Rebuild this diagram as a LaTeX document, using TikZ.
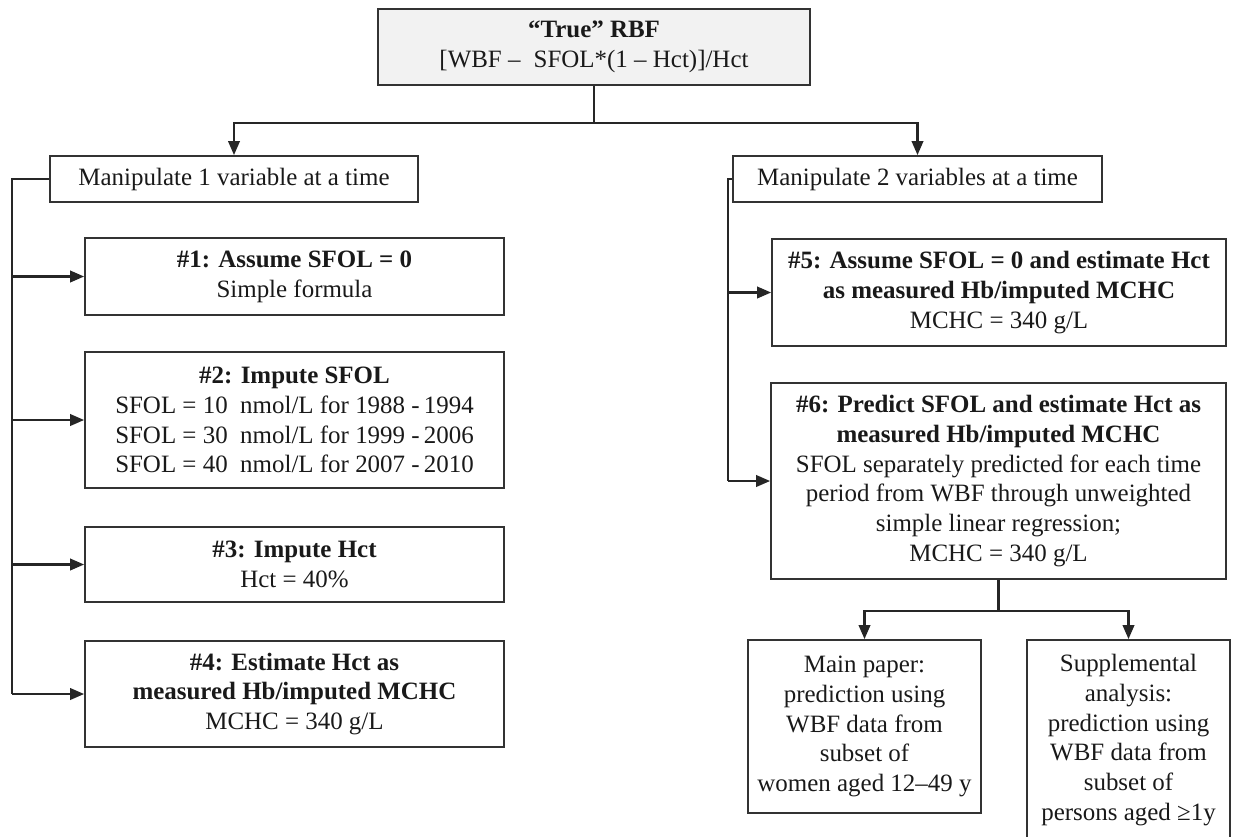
\documentclass[tikz,border=0pt]{standalone}
\usepackage{fontspec}
\setmainfont{Liberation Serif}
\usetikzlibrary{arrows.meta}
\begin{document}
\begin{tikzpicture}[x=0.02cm,y=-0.02cm,
  box/.style={draw=black!80, line width=1pt, align=center, inner sep=1pt, text=black!90,
    font=\fontsize{14.2}{17}\selectfont},
  wire/.style={draw=black!85, line width=1.4pt},
  arr/.style={wire, -{Triangle[length=8pt,width=6.5pt]}}]
\useasboundingbox (0,0) rectangle (1233,836);
% root
\node[box, fill=gray!10, minimum width=8.64cm, minimum height=1.52cm] (root) at (594,47)
  {\textbf{“True” RBF}\\ {[}WBF –\; SFOL*(1 – Hct)]/Hct};
% the two branches
\node[box, minimum width=7.36cm, minimum height=0.92cm] (one) at (234,179) {Manipulate 1 variable at a time};
\node[box, minimum width=7.38cm, minimum height=0.92cm] (two) at (917.5,179) {Manipulate 2 variables at a time};
% left column
\node[box, minimum width=8.38cm, minimum height=1.54cm] (s1) at (294.5,276.5)
  {\textbf{\#1: Assume SFOL = 0}\\ Simple formula};
\node[box, minimum width=8.38cm, minimum height=2.72cm] (s2) at (294.5,420)
  {\textbf{\#2: Impute SFOL}\\ SFOL = 10\ \ nmol/L for 1988 -\,1994\\ SFOL = 30\ \ nmol/L for 1999 -\,2006\\ SFOL = 40\ \ nmol/L for 2007 -\,2010};
\node[box, minimum width=8.38cm, minimum height=1.50cm] (s3) at (294.5,564.5)
  {\textbf{\#3: Impute Hct}\\ Hct = 40\%};
\node[box, minimum width=8.38cm, minimum height=2.12cm] (s4) at (294.5,694)
  {\textbf{\#4: Estimate Hct as}\\ \textbf{measured Hb/imputed MCHC}\\ MCHC = 340 g/L};
% right column
\node[box, minimum width=9.08cm, minimum height=2.14cm] (s5) at (999,292.5)
  {\textbf{\#5: Assume SFOL = 0 and estimate Hct}\\ \textbf{as measured Hb/imputed MCHC}\\ MCHC = 340 g/L};
\node[box, minimum width=9.10cm, minimum height=3.92cm] (s6) at (998.5,481)
  {\textbf{\#6: Predict SFOL and estimate Hct as}\\ \textbf{measured Hb/imputed MCHC}\\ SFOL separately predicted for each time\\ period from WBF through unweighted\\ simple linear regression;\\ MCHC = 340 g/L};
\node[box, minimum width=4.66cm, minimum height=3.46cm] (mainp) at (864.5,726.5)
  {Main paper:\\ prediction using\\ WBF data from\\ subset of\\ women aged 12–49 y};
\node[box, minimum width=4.06cm, minimum height=4.0cm] (suppl) at (1128.5,740)
  {Supplemental\\ analysis:\\ prediction using\\ WBF data from\\ subset of\\ persons aged ≥1y};
% connectors
\draw[wire] (root.south) -- ++(0,37) coordinate (rsplit);
\draw[arr] (rsplit) -| (one.north);
\draw[arr] (rsplit) -| (two.north);
\coordinate (lspine) at (12,0);
\coordinate (rspine) at (728,0);
\draw[wire] (one.west) -- (one.west -| lspine) -- (s4.west -| lspine);
\foreach \s in {s1,s2,s3,s4} \draw[arr] (\s.west -| lspine) -- (\s.west);
\draw[wire] (two.west) -- (two.west -| rspine) -- (s6.west -| rspine);
\foreach \s in {s5,s6} \draw[arr] (\s.west -| rspine) -- (\s.west);
\draw[wire] (s6.south) -- ++(0,31) coordinate (bsplit);
\draw[arr] (bsplit) -| (mainp.north);
\draw[arr] (bsplit) -| (suppl.north);
\end{tikzpicture}
\end{document}
